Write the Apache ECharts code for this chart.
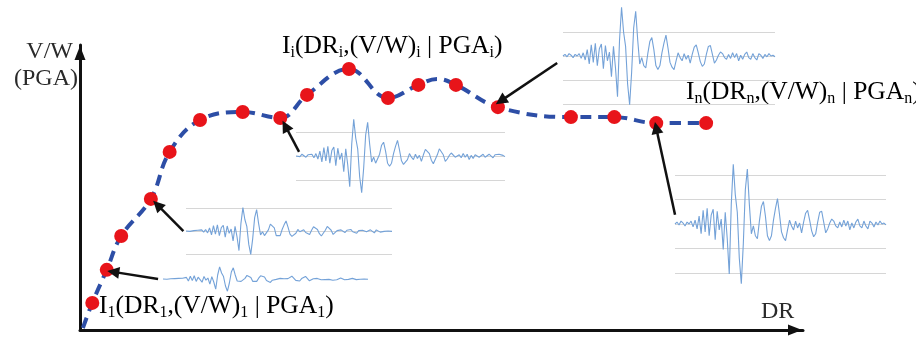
<!DOCTYPE html>
<html><head><meta charset="utf-8">
<script src="https://cdn.jsdelivr.net/npm/echarts@6/dist/echarts.min.js"></script>
<style>html,body{margin:0;padding:0;background:#fff}#c{width:916px;height:339px}</style>
</head><body><div id="c"></div>
<script>
// IDA points: drift ratio (DR) vs V/W, in axis units (0-100)
const dotDR = [1.7, 3.7, 5.7, 9.8, 12.4, 16.6, 22.5, 27.7, 31.4, 37.2, 42.6, 46.8, 52.0, 57.8, 67.9, 73.9, 79.7, 86.6];
const dotVW = [9.5, 21.1, 33.0, 46.0, 62.5, 73.7, 76.5, 74.4, 82.5, 91.6, 81.4, 86.0, 86.0, 78.2, 74.7, 74.7, 72.6, 72.6];
// dashed IDA curve path
const curveDR = [0.4, 1.7, 3.7, 5.7, 9.8, 12.4, 16.6, 22.5, 27.7, 31.4, 37.2, 42.6, 46.8, 49.4, 52.0, 57.8, 67.9, 73.9, 79.7, 86.6];
const curveVW = [0.7, 9.5, 21.1, 33.0, 46.0, 62.5, 73.7, 76.5, 74.4, 82.5, 91.6, 81.4, 86.0, 88.1, 86.0, 78.2, 74.7, 74.7, 72.6, 72.6];
// ground-motion record (same accelerogram, scaled per box)
const record = [0,0.2,-0.1,0.3,0.1,-0.2,0.2,0,0.3,-0.3,0.4,-0.5,0.8,-1.0,1.4,-0.8,1.6,-1.2,0.9,1.5,
 -1.6,1.3,-0.6,0.5,-2.6,1.2,-1.5,-5.1,2.0,6.1,3.0,1.2,-3.5,-6.1,-2.0,3.5,5.6,2.0,-1.0,-0.2,
 -1.2,-1.5,0.3,1.8,2.3,0.8,-1.2,-1.7,-1.2,0.4,1.6,2.6,1.0,-0.8,-1.4,-1.7,-0.6,0.4,-0.2,-0.6,
 0.3,-0.4,0.1,-0.9,0.2,1.1,1.4,0.4,-0.7,-1.3,-1.0,0.2,1.2,1.3,0.2,-0.9,-0.5,0.1,0.5,0.3,
 -0.2,-0.4,0.2,-0.3,0.4,-0.2,0.3,-0.6,0.1,-0.4,0.2,0.5,-0.2,-0.4,0.3,-0.2,-0.5,0.3,0.1,-0.3,
 0.2,-0.1,0.3,0,0.1,-0.1];
// annotation arrows (axis units)
const arrowFrom = [[10.8,17.9],[14.3,34.7],[30.3,62.5],[66.0,93.7],[82.3,40.4]];
const arrowTo   = [[4.6,20.4],[10.7,43.9],[28.4,71.6],[58.2,80.4],[79.7,70.9]];

const serif = 'Liberation Serif';
const txt = '#2a2a2a';
const boxes = [
  {left:163, top:255, width:205, height:48, min:-12, max:12, interval:12, lines:false},
  {left:186, top:208, width:206, height:46, min:-6, max:6, interval:6, lines:true},
  {left:296, top:132, width:209, height:48, min:-4, max:4, interval:4, lines:true},
  {left:563, top:32, width:212, height:72, min:-6, max:3, interval:3, lines:true},
  {left:675, top:175, width:211, height:98, min:-5, max:5, interval:2.5, lines:true}
];

const grid = [{left:80, top:45, width:723, height:285}];
const mainAxisLine = {show:true, lineStyle:{color:'#111', width:3}, symbol:['none','triangle'], symbolSize:[11,14], symbolOffset:[0,-8]};
const xAxis = [{type:'value', min:0, max:100, gridIndex:0, axisLine:mainAxisLine,
  axisTick:{show:false}, axisLabel:{show:false}, splitLine:{show:false}}];
const yAxis = [{type:'value', min:0, max:100, gridIndex:0, axisLine:mainAxisLine,
  axisTick:{show:false}, axisLabel:{show:false}, splitLine:{show:false}}];
const series = [];
const wave = record.map((v,i)=>[i,v]);
boxes.forEach((b,k)=>{
  const gi = k+1;
  grid.push({left:b.left, top:b.top, width:b.width, height:b.height});
  xAxis.push({type:'value', gridIndex:gi, min:0, max:record.length-1, show:false});
  yAxis.push({type:'value', gridIndex:gi, min:b.min, max:b.max, interval:b.interval,
    axisLine:{show:false}, axisTick:{show:false}, axisLabel:{show:false},
    splitLine:{show:b.lines, lineStyle:{color:'#d6d6d6', width:1}}});
  series.push({type:'line', xAxisIndex:gi, yAxisIndex:gi, data:wave, showSymbol:false, clip:false,
    lineStyle:{color:'#74a2d8', width:1.1}, silent:true, animation:false});
});
series.push({type:'line', xAxisIndex:0, yAxisIndex:0, data:curveDR.map((x,i)=>[x,curveVW[i]]),
  smooth:0.4, showSymbol:false, lineStyle:{color:'#2d4ea6', width:4, type:[11,7]}, z:3, animation:false});
series.push({type:'scatter', xAxisIndex:0, yAxisIndex:0, data:dotDR.map((x,i)=>[x,dotVW[i]]),
  symbolSize:14, itemStyle:{color:'#e8141a', opacity:1}, z:4, animation:false});
series.push({type:'lines', coordinateSystem:'cartesian2d', xAxisIndex:0, yAxisIndex:0,
  data:arrowFrom.map((f,i)=>({coords:[f, arrowTo[i]]})),
  symbol:['none','triangle'], symbolSize:[9,12], lineStyle:{color:'#111', width:2.5, opacity:1, curveness:0}, z:5, animation:false});

const rich = {
  m:{fontFamily:serif, fontSize:25.5, color:txt, lineHeight:30},
  s:{fontFamily:serif, fontSize:16, color:txt, verticalAlign:'bottom', lineHeight:30}
};
function lbl(sub){
  return `{m|I}{s|${sub}}{m|(DR}{s|${sub}}{m|,(V/W)}{s|${sub}}{m| | PGA}{s|${sub}}{m|)}`;
}
const graphic = [
  {type:'text', style:{x:73, y:52, text:'V/W', font:`24px "${serif}"`, fill:txt, align:'right', verticalAlign:'middle'}},
  {type:'text', style:{x:78, y:79, text:'(PGA)', font:`24px "${serif}"`, fill:txt, align:'right', verticalAlign:'middle'}},
  {type:'text', style:{x:761, y:312, text:'DR', font:`24px "${serif}"`, fill:txt, align:'left', verticalAlign:'middle'}},
  {type:'text', style:{x:99, y:306, text:lbl('1'), rich, align:'left', verticalAlign:'middle'}},
  {type:'text', style:{x:282, y:46, text:lbl('i'), rich, align:'left', verticalAlign:'middle'}},
  {type:'text', style:{x:686, y:92, text:lbl('n'), rich, align:'left', verticalAlign:'middle'}}
];

const chart = echarts.init(document.getElementById('c'), null, {renderer:'canvas'});
chart.setOption({animation:false, backgroundColor:'#fff', grid, xAxis, yAxis, series, graphic});
</script></body></html>
